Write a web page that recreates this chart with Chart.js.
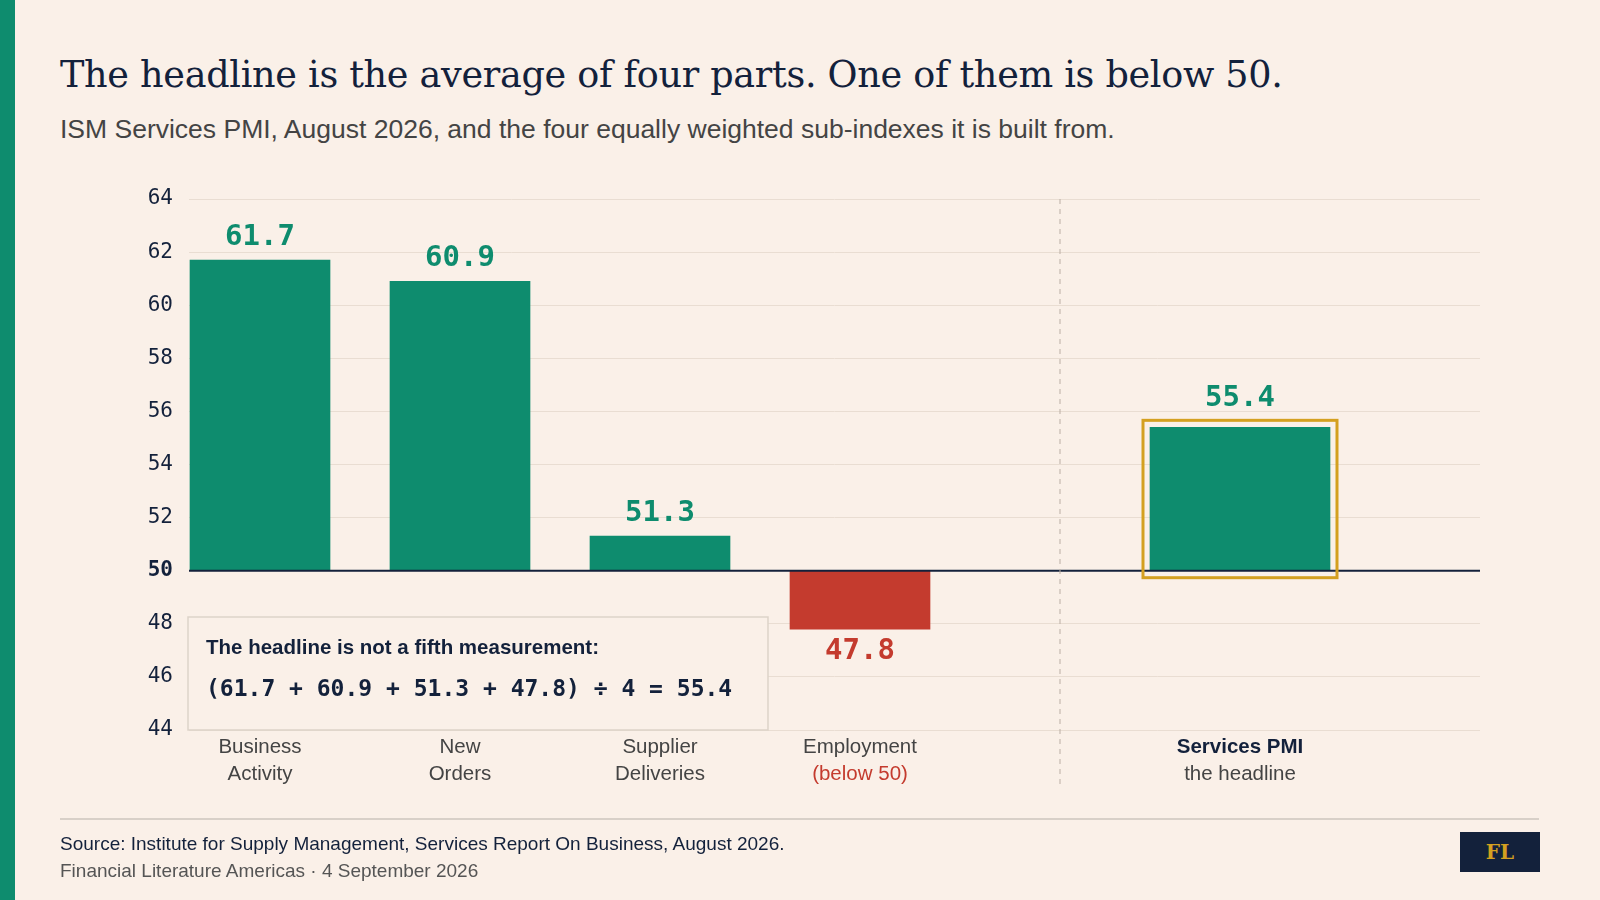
<!DOCTYPE html>
<html lang="en">
<head>
<meta charset="UTF-8">
<title>ISM Services PMI</title>
<style>
    body { margin: 0; background: #faf0e8; font-family: "Liberation Sans", Arial, sans-serif; }
    #page { position: relative; width: 1600px; height: 900px; overflow: hidden; }
    #stripe { position: absolute; left: 0; top: 0; width: 15px; height: 900px; background: #0e8c6e; }
    h1 { position: absolute; left: 60px; top: 53px; margin: 0; font-family: "DejaVu Serif", Georgia, serif; font-weight: normal; font-size: 36.6px; letter-spacing: -0.3px; color: #13213b; }
    #sub { position: absolute; left: 60px; top: 114px; font-size: 26.5px; color: #444; }
    #chart-box { position: absolute; left: 0; top: 0; width: 1600px; height: 900px; }
    #rule { position: absolute; left: 60px; top: 818px; width: 1479px; height: 2px; background: #d8d0c8; }
    #source { position: absolute; left: 60px; top: 833px; font-size: 19px; color: #13213b; }
    #byline { position: absolute; left: 60px; top: 860px; font-size: 19px; color: #555; }
    #logo { position: absolute; left: 1460px; top: 832px; width: 80px; height: 40px; background: #13213b; color: #d4a020; font-family: "DejaVu Serif", serif; font-weight: bold; font-size: 20px; text-align: center; line-height: 40px; }
</style>
</head>
<body>
<div id="page">
    <div id="stripe"></div>
    <h1>The headline is the average of four parts. One of them is below 50.</h1>
    <div id="sub">ISM Services PMI, August 2026, and the four equally weighted sub-indexes it is built from.</div>
    <div id="chart-box"><canvas id="pmi-plot" width="1600" height="900"></canvas></div>
    <div id="rule"></div>
    <div id="source">Source: Institute for Supply Management, Services Report On Business, August 2026.</div>
    <div id="byline">Financial Literature Americas · 4 September 2026</div>
    <div id="logo">FL</div>
</div>
<script src="https://cdn.jsdelivr.net/npm/chart.js"></script>
<script>
    const categories = [['Business', 'Activity'], ['New', 'Orders'], ['Supplier', 'Deliveries'], ['Employment', '(below 50)'], ['Services PMI', 'the headline']];
    const positions = [0, 1, 2, 3, 4.9];
    const values = [61.7, 60.9, 51.3, 47.8, 55.4];
    const yTicks = [44, 46, 48, 50, 52, 54, 56, 58, 60, 62, 64];
    const dividerAt = 4;

    const GREEN = '#0e8c6e', RED = '#c43b2e', NAVY = '#13213b', GOLD = '#d4a020';
    const MONO = '"DejaVu Sans Mono", monospace';
    const SANS = '"Liberation Sans", Arial, sans-serif';

    const extras = {
        id: 'extras',
        afterDatasetsDraw(chart) {
            const c = chart.ctx, x = chart.scales.x, y = chart.scales.y, a = chart.chartArea;
            const y50 = y.getPixelForValue(50);
            c.save();
            // baseline at 50
            c.strokeStyle = NAVY; c.lineWidth = 2;
            c.beginPath(); c.moveTo(a.left, y50); c.lineTo(a.right, y50); c.stroke();
            // divider
            const dx = x.getPixelForValue(dividerAt);
            c.strokeStyle = '#bbaea4'; c.lineWidth = 1; c.setLineDash([5, 5]);
            c.beginPath(); c.moveTo(dx, a.top); c.lineTo(dx, 785); c.stroke();
            c.setLineDash([]);
            // headline frame
            const bars = chart.getDatasetMeta(0).data.concat(chart.getDatasetMeta(1).data);
            const hb = bars[4];
            const hTop = y.getPixelForValue(values[4]);
            c.strokeStyle = GOLD; c.lineWidth = 3;
            c.strokeRect(hb.x - hb.width / 2 - 7, hTop - 7, hb.width + 14, y50 - hTop + 14);
            // value labels
            c.font = 'bold 29px ' + MONO; c.textAlign = 'center';
            values.forEach((v, i) => {
                const bx = bars[i].x, by = y.getPixelForValue(v);
                c.fillStyle = v < 50 ? RED : GREEN;
                if (v < 50) { c.textBaseline = 'top'; c.fillText(v.toFixed(1), bx, by + 8); }
                else { c.textBaseline = 'bottom'; c.fillText(v.toFixed(1), bx, by - (i === 4 ? 14 : 8)); }
            });
            // category labels
            c.textBaseline = 'middle';
            categories.forEach((lab, i) => {
                const px = x.getPixelForValue(positions[i]);
                c.font = (i === 4 ? 'bold ' : '') + '20.5px ' + SANS;
                c.fillStyle = i === 4 ? NAVY : '#444';
                c.fillText(lab[0], px, 747);
                c.font = '20.5px ' + SANS;
                c.fillStyle = i === 3 ? RED : '#444';
                c.fillText(lab[1], px, 774);
            });
            // annotation box
            c.fillStyle = '#faf0e8'; c.strokeStyle = '#ddd3c9'; c.lineWidth = 1.5;
            c.fillRect(a.left - 1, 617, 580, a.bottom - 617);
            c.strokeRect(a.left - 1, 617, 580, a.bottom - 617);
            c.textAlign = 'left'; c.fillStyle = NAVY;
            c.font = 'bold 20.5px ' + SANS;
            c.fillText('The headline is not a fifth measurement:', 206, 648);
            c.font = 'bold 23px ' + MONO;
            c.fillText('(' + values.slice(0, 4).join(' + ') + ') ÷ 4 = ' + values[4], 206, 690);
            c.restore();
        }
    };

    new Chart(document.getElementById('pmi-plot'), {
        type: 'bar',
        data: {
            datasets: [{
                data: values.slice(0, 4).map((v, i) => ({ x: positions[i], y: [50, v] })),
                backgroundColor: values.slice(0, 4).map(v => v < 50 ? RED : GREEN),
                barThickness: 140,
                borderWidth: 0
            }, {
                data: [{ x: positions[4], y: [50, values[4]] }],
                backgroundColor: GREEN,
                barThickness: 180,
                borderWidth: 0
            }]
        },
        plugins: [extras],
        options: {
            responsive: false,
            animation: false,
            devicePixelRatio: 1,
            grouped: false,
            layout: { padding: { left: 0, right: 120, top: 199, bottom: 170 } },
            plugins: { legend: { display: false }, tooltip: { enabled: false } },
            scales: {
                x: { type: 'linear', min: -0.355, max: 6.1, offset: false, display: false },
                y: {
                    min: 44, max: 64,
                    afterFit: s => { s.width = 189; },
                    afterBuildTicks: s => { s.ticks = yTicks.map(v => ({ value: v })); },
                    border: { display: false },
                    grid: { color: '#e9ddd2', drawTicks: false },
                    ticks: {
                        padding: 16,
                        color: NAVY,
                        font: ctx => ({ family: MONO, size: 21, weight: ctx.tick && ctx.tick.value === 50 ? 'bold' : 'normal' })
                    }
                }
            }
        }
    });
</script>
</body>
</html>
